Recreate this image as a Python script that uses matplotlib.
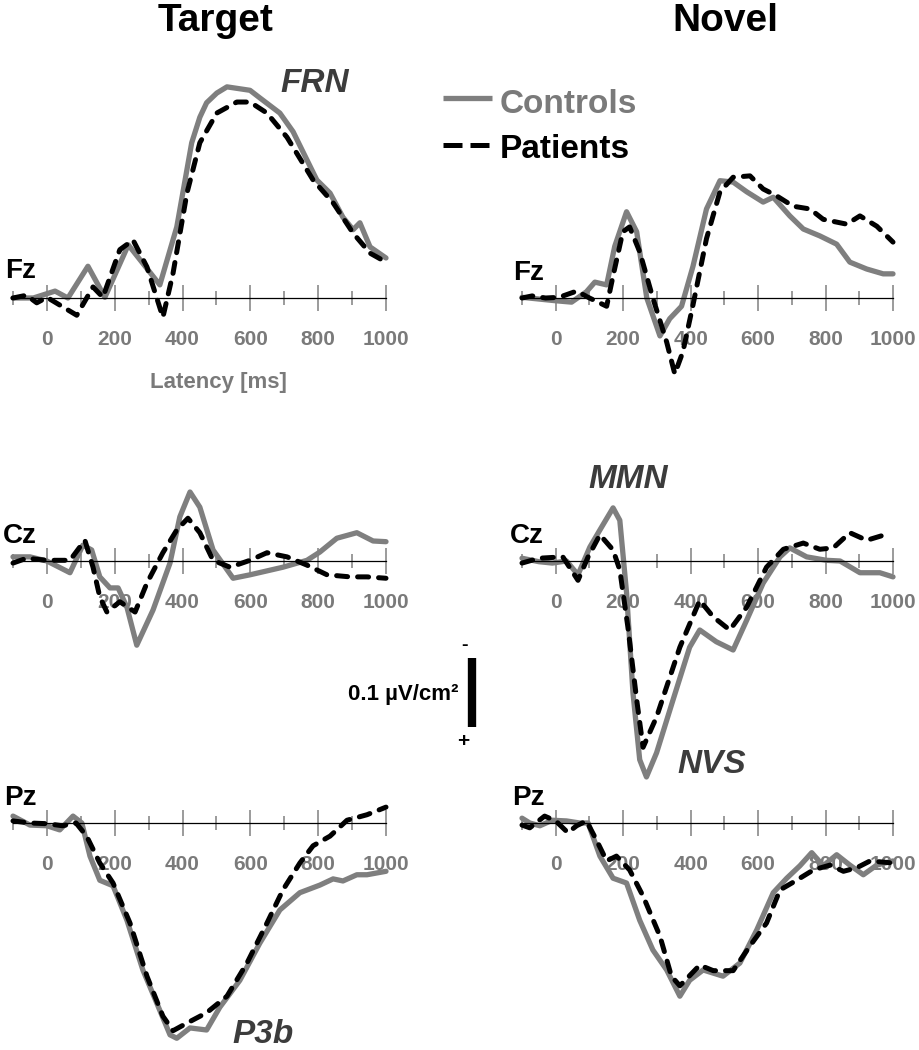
import matplotlib
matplotlib.use("Agg")
import matplotlib.pyplot as plt
from matplotlib.lines import Line2D

# ERP current source density (uV/cm^2), negative plotted upward
# Target / Fz
tfz_ctl_ms = [-100, -40, 24, 62, 121, 171, 240, 333, 383, 427, 451, 471, 501, 531, 599, 628, 687, 726, 796, 835, 873, 903, 923, 953, 1000]
tfz_ctl_uv = [0, 0, -0.010, 0, -0.046, -0.001, -0.077, -0.019, -0.103, -0.225, -0.262, -0.283, -0.297, -0.306, -0.301, -0.290, -0.268, -0.241, -0.171, -0.152, -0.117, -0.099, -0.109, -0.074, -0.058]
tfz_pat_ms = [-100, -60, -30, 0, 88, 136, 165, 215, 254, 295, 342, 372, 413, 451, 501, 560, 599, 649, 708, 785, 844, 903, 953, 1000]
tfz_pat_uv = [0, -0.004, 0.007, -0.001, 0.025, -0.016, -0.001, -0.070, -0.084, -0.045, 0.028, -0.036, -0.152, -0.225, -0.268, -0.284, -0.284, -0.268, -0.233, -0.171, -0.138, -0.094, -0.065, -0.052]
# Novel / Fz
nfz_ctl_ms = [-100, 0, 47, 91, 116, 151, 175, 210, 240, 270, 309, 338, 373, 407, 447, 487, 526, 566, 615, 645, 694, 734, 783, 833, 872, 922, 971, 1000]
nfz_ctl_uv = [-0.001, 0.004, 0.006, -0.009, -0.023, -0.019, -0.075, -0.125, -0.096, 0, 0.055, 0.030, 0.012, -0.046, -0.129, -0.170, -0.168, -0.154, -0.139, -0.146, -0.119, -0.100, -0.090, -0.078, -0.052, -0.042, -0.035, -0.035]
nfz_pat_ms = [-100, -70, -30, 10, 62, 100, 151, 170, 199, 219, 249, 288, 329, 353, 377, 407, 447, 487, 526, 576, 615, 655, 704, 754, 793, 863, 902, 952, 1000]
nfz_pat_uv = [0, -0.003, 0, -0.001, -0.010, 0, 0.012, -0.032, -0.096, -0.103, -0.067, 0, 0.064, 0.110, 0.078, 0.010, -0.086, -0.154, -0.175, -0.177, -0.158, -0.148, -0.133, -0.129, -0.114, -0.107, -0.119, -0.104, -0.081]
# Target / Cz
tcz_ctl_ms = [-100, -50, 0, 68, 106, 132, 156, 186, 210, 236, 265, 313, 363, 392, 422, 451, 490, 549, 599, 696, 767, 805, 855, 914, 962, 1000]
tcz_ctl_uv = [-0.006, -0.006, 0, 0.017, -0.023, -0.016, 0.023, 0.039, 0.039, 0.067, 0.122, 0.071, 0.003, -0.064, -0.100, -0.078, -0.016, 0.025, 0.020, 0.009, -0.001, -0.013, -0.033, -0.041, -0.029, -0.028]
tcz_pat_ms = [-100, -60, 0, 68, 112, 136, 156, 177, 215, 260, 295, 342, 383, 416, 451, 490, 540, 599, 649, 708, 767, 826, 894, 944, 1000]
tcz_pat_uv = [0.003, -0.004, -0.001, -0.001, -0.030, 0.009, 0.052, 0.074, 0.059, 0.074, 0.032, -0.012, -0.045, -0.062, -0.041, -0.001, 0.009, -0.001, -0.012, -0.006, 0.006, 0.020, 0.023, 0.023, 0.025]
# Novel / Cz
ncz_ctl_ms = [-100, -50, -10, 32, 66, 101, 131, 170, 190, 210, 229, 249, 269, 299, 348, 397, 427, 476, 526, 566, 615, 665, 694, 744, 803, 843, 902, 961, 1000]
ncz_ctl_uv = [-0.004, 0.001, 0.003, 0, 0.020, -0.020, -0.045, -0.077, -0.059, 0.046, 0.191, 0.288, 0.313, 0.278, 0.201, 0.125, 0.100, 0.117, 0.129, 0.086, 0.032, -0.006, -0.019, -0.006, -0.001, 0, 0.017, 0.017, 0.023]
ncz_pat_ms = [-100, -50, 21, 66, 96, 131, 170, 190, 214, 240, 259, 299, 368, 427, 467, 516, 566, 625, 675, 734, 783, 823, 872, 922, 976]
ncz_pat_uv = [0.003, -0.004, -0.006, 0.028, -0.006, -0.038, -0.016, 0.013, 0.096, 0.201, 0.270, 0.226, 0.125, 0.057, 0.081, 0.100, 0.067, 0.009, -0.017, -0.026, -0.017, -0.019, -0.041, -0.030, -0.038]
# Target / Pz
tpz_ctl_ms = [-100, -50, 0, 38, 77, 103, 127, 156, 195, 236, 283, 324, 363, 383, 422, 471, 510, 569, 628, 687, 746, 805, 844, 873, 914, 944, 1000]
tpz_ctl_uv = [-0.010, 0.003, 0.004, 0.010, -0.010, 0, 0.048, 0.083, 0.091, 0.141, 0.213, 0.261, 0.307, 0.312, 0.297, 0.300, 0.267, 0.228, 0.174, 0.126, 0.101, 0.090, 0.081, 0.084, 0.075, 0.075, 0.070]
tpz_pat_ms = [-100, -50, 0, 46, 86, 117, 156, 195, 245, 295, 342, 372, 413, 471, 531, 590, 649, 696, 746, 785, 835, 885, 944, 1000]
tpz_pat_uv = [-0.003, 0, 0.001, 0.004, 0, 0.019, 0.058, 0.087, 0.145, 0.222, 0.280, 0.301, 0.290, 0.275, 0.251, 0.203, 0.145, 0.097, 0.058, 0.033, 0.019, -0.004, -0.012, -0.023]
# Novel / Pz
npz_ctl_ms = [-100, -77, -47, -10, 32, 71, 96, 131, 170, 210, 249, 288, 329, 368, 397, 437, 496, 546, 596, 645, 685, 724, 759, 793, 833, 872, 912, 952, 1000]
npz_ctl_uv = [-0.007, 0, 0.004, -0.004, -0.003, 0, 0, 0.048, 0.080, 0.087, 0.141, 0.184, 0.213, 0.251, 0.228, 0.213, 0.222, 0.203, 0.155, 0.101, 0.080, 0.062, 0.043, 0.062, 0.046, 0.061, 0.075, 0.061, 0.055]
npz_pat_ms = [-100, -77, -33, 0, 36, 62, 91, 121, 151, 180, 219, 259, 309, 343, 368, 427, 467, 526, 576, 625, 665, 714, 764, 813, 853, 892, 932, 1000]
npz_pat_uv = [0.003, 0.007, -0.010, -0.003, 0.014, 0.004, -0.003, 0.025, 0.055, 0.048, 0.068, 0.106, 0.164, 0.222, 0.236, 0.206, 0.214, 0.214, 0.178, 0.145, 0.097, 0.083, 0.068, 0.061, 0.070, 0.065, 0.055, 0.058]

major_ticks = [0, 200, 400, 600, 800, 1000]
minor_ticks = [-100, 100, 300, 500, 700, 900]

W, H = 919, 1050
S = 690.0  # pixels per uV/cm^2
FONT = ['Liberation Sans', 'DejaVu Sans']
GRAY = '#7a7a7a'
DARK = '#3c3c3c'

fig = plt.figure(figsize=(W / 100, H / 100), dpi=100)


def panel(xl, xr, y0, ytop, ybot, ctl, pat, label, lab_xy):
    ax = fig.add_axes([xl / W, 1 - ybot / H, (xr - xl) / W, (ybot - ytop) / H])
    ax.patch.set_alpha(0)
    ax.set_xlim(-100, 1000)
    ax.set_ylim((ybot - y0) / S, -(y0 - ytop) / S)
    for side in ['top', 'left', 'right']:
        ax.spines[side].set_visible(False)
    ax.spines['bottom'].set_position(('data', 0))
    ax.spines['bottom'].set_linewidth(0.9)
    ax.set_yticks([])
    ax.set_xticks(major_ticks)
    ax.set_xticks(minor_ticks, minor=True)
    ax.set_xticklabels([str(t) for t in major_ticks])
    ax.tick_params(axis='x', which='major', direction='inout', length=19, width=1.1,
                   color='#808080', pad=13.2, labelsize=15, labelcolor=GRAY)
    ax.tick_params(axis='x', which='minor', direction='inout', length=10, width=1.1,
                   color='#808080')
    for t in ax.get_xticklabels():
        t.set_family(FONT)
        t.set_fontweight('bold')
    ax.plot(ctl[0], ctl[1], color='#7f7f7f', lw=3.8, solid_capstyle='round',
            solid_joinstyle='round', clip_on=False, zorder=2)
    ax.plot(pat[0], pat[1], color='black', lw=3.6, dashes=(2.2, 2.0),
            dash_capstyle='round', dash_joinstyle='round', clip_on=False, zorder=3)
    fig.text(lab_xy[0] / W, 1 - lab_xy[1] / H, label, family=FONT, weight='bold',
             size=20, va='baseline', ha='left')
    return ax


LX = (13, 386)
RX = (522, 893)
panel(*LX, 298, 50, 420, (tfz_ctl_ms, tfz_ctl_uv), (tfz_pat_ms, tfz_pat_uv), 'Fz', (5, 278))
panel(*RX, 298, 50, 420, (nfz_ctl_ms, nfz_ctl_uv), (nfz_pat_ms, nfz_pat_uv), 'Fz', (513, 280))
ax_cz = panel(*LX, 561, 420, 780, (tcz_ctl_ms, tcz_ctl_uv), (tcz_pat_ms, tcz_pat_uv), 'Cz', (3, 543))
panel(*RX, 561, 420, 780, (ncz_ctl_ms, ncz_ctl_uv), (ncz_pat_ms, ncz_pat_uv), 'Cz', (510, 543))
panel(*LX, 823, 780, 1050, (tpz_ctl_ms, tpz_ctl_uv), (tpz_pat_ms, tpz_pat_uv), 'Pz', (4, 805))
panel(*RX, 823, 780, 1050, (npz_ctl_ms, npz_ctl_uv), (npz_pat_ms, npz_pat_uv), 'Pz', (512, 805))

# scale bar: 0.1 uV/cm^2
bar_x = 1253
ax_cz.plot([bar_x, bar_x], [0.1406, 0.2406], color='black', lw=6, solid_capstyle='butt', clip_on=False)


def ftext(x, y, s, **kw):
    fig.text(x / W, 1 - y / H, s, va='baseline', **kw)


ftext(216, 31, 'Target', ha='center', family=FONT, weight='bold', size=28)
ftext(725, 31, 'Novel', ha='center', family=FONT, weight='bold', size=28)
ftext(218, 388, 'Latency [ms]', ha='center', family=FONT, weight='bold', size=16, color=GRAY)

for s, x, y in [('FRN', 280, 92), ('MMN', 588, 488), ('NVS', 677, 773), ('P3b', 232, 1043)]:
    ftext(x, y, s, ha='left', family=FONT, weight='bold', style='italic', size=24, color=DARK)

ftext(403, 700, '0.1 \u00b5V/cm\u00b2', ha='center', family=FONT, weight='bold', size=16)
ftext(464, 650, '-', ha='center', family=FONT, weight='bold', size=14)
ftext(463, 747, '+', ha='center', family=FONT, weight='bold', size=15)

# legend
fig.add_artist(Line2D([443 / W, 492 / W], [1 - 98 / H] * 2, color='#7f7f7f', lw=3.8,
                      solid_capstyle='butt'))
fig.add_artist(Line2D([443 / W, 492 / W], [1 - 145 / H] * 2, color='black', lw=3.6,
                      dashes=(3.8, 1.6)))
ftext(500, 113, 'Controls', ha='left', family=FONT, weight='bold', size=24, color=GRAY)
ftext(500, 158, 'Patients', ha='left', family=FONT, weight='bold', size=24, color='black')

fig.savefig('out.png', dpi=100)
